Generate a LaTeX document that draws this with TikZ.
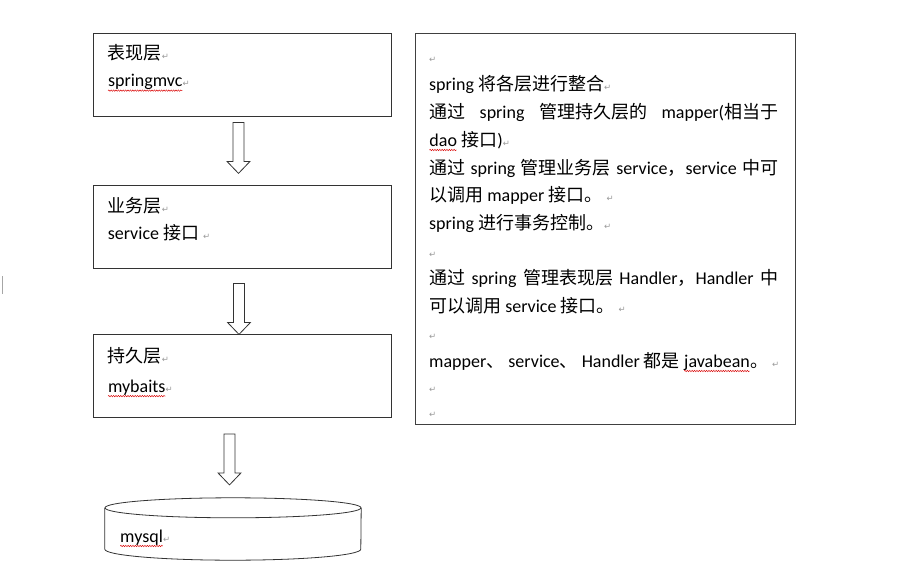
\documentclass[tikz,border=0pt]{standalone}
\usepackage{fontspec}
\setmainfont{Carlito}
\newfontfamily\cjk{Noto Sans CJK SC}
\newfontfamily\markfont{DejaVu Sans}
\usetikzlibrary{decorations.pathmorphing}
\newcommand\zh[1]{{\cjk #1}}
\newcommand\parmark{{\markfont\fontsize{8.5}{8.5}\selectfont\color{black!40}↵}}
\newcommand\squig[1]{\tikz[baseline=(sq.base)]{\node[inner sep=0pt, outer sep=0pt] (sq) {#1};
  \draw[red!85!black, line width=0.45pt, decorate, decoration={snake, amplitude=0.7pt, segment length=2.4pt}]
    ([yshift=-4pt]sq.base west) -- ([yshift=-4pt]sq.base east);}}
\tikzset{
  layer/.style={draw=black!80, line width=0.8pt, minimum width=298pt, minimum height=83pt, inner sep=0pt},
  layertext/.style={anchor=base west, inner sep=0pt, font=\fontsize{18}{22}\selectfont},
  hollowarrow/.pic={\draw[draw=black!80, line width=0.8pt]
    (-5.5,0) -- (5.5,0) -- (5.5,39) -- (11.5,39) -- (0,51) -- (-11.5,39) -- (-5.5,39) -- cycle;}
}
\begin{document}
\begin{tikzpicture}[x=1pt, y=-1pt]
\useasboundingbox (0,0) rectangle (906,579);
% Layer boxes
\node[layer] (view) at (242,74.5) {};
\node[layer] (logic) at (242,226.5) {};
\node[layer] (persist) at (242,376) {};
\node[layertext] (viewname) at ([xshift=15pt, yshift=-27pt]view.north west) {\zh{表现层}\parmark};
\node[layertext] (viewtech) at ([xshift=15pt, yshift=-54pt]view.north west) {\squig{springmvc}\parmark};
\node[layertext] (logicname) at ([xshift=15pt, yshift=-28pt]logic.north west) {\zh{业务层}\parmark};
\node[layertext] (logictech) at ([xshift=15pt, yshift=-55pt]logic.north west) {service \zh{接口} \parmark};
\node[layertext] (persistname) at ([xshift=15pt, yshift=-28pt]persist.north west) {\zh{持久层}\parmark};
\node[layertext] (persisttech) at ([xshift=15pt, yshift=-58pt]persist.north west) {\squig{mybaits}\parmark};
% Database
\node[minimum width=256pt, minimum height=62pt, inner sep=0pt] (db) at (233,529) {};
\draw[draw=black!80, line width=0.8pt] ([yshift=-10pt]db.north) ellipse [x radius=128pt, y radius=10pt];
\draw[draw=black!80, line width=0.8pt] ([yshift=-10pt]db.north west) -- ([yshift=11pt]db.south west)
    arc [start angle=180, end angle=360, x radius=128pt, y radius=11pt] -- ([yshift=-10pt]db.north east);
\node[layertext] (dbname) at ([xshift=15pt, yshift=-13pt]db.west) {\squig{mysql}\parmark};
% Block arrows
\pic at ([xshift=-3.5pt, yshift=-6pt]view.south) {hollowarrow};
\pic at ([xshift=-3pt, yshift=-15pt]logic.south) {hollowarrow};
\pic at ([xshift=-12.5pt, yshift=-16pt]persist.south) {hollowarrow};
% Notes box
\node[draw=black!75, line width=0.8pt, minimum width=380pt, minimum height=391pt, inner sep=0pt] (notes) at (605,228.5) {};
\foreach \y/\txt [count=\i] in {
  62/{\parmark},
  90/{spring \zh{将各层进行整合}\parmark},
  118/{\makebox[349pt][s]{\zh{通过} spring \zh{管理持久层的} mapper(\zh{相当于}}},
  146/{\squig{dao} \zh{接口})\parmark},
  174/{\makebox[349pt][s]{\zh{通过} spring \zh{管理业务层} service\zh{，}service \zh{中可}}},
  201/{\zh{以调用} mapper \zh{接口。} \parmark},
  229/{spring \zh{进行事务控制。}\parmark},
  257/{\parmark},
  284/{\makebox[349pt][s]{\zh{通过} spring \zh{管理表现层} Handler\zh{，}Handler \zh{中}}},
  312/{\zh{可以调用} service \zh{接口。} \parmark},
  339/{\parmark},
  367/{mapper\zh{、} service\zh{、} Handler \zh{都是} \squig{javabean}\zh{。} \parmark},
  392/{\parmark},
  417/{\parmark}}
  \node[layertext] (note\i) at (429,\y) {\txt};
% Stray mark at the left edge
\draw[black!35, line width=0.6pt] (2.5,276) -- (2.5,294);
\end{tikzpicture}
\end{document}
